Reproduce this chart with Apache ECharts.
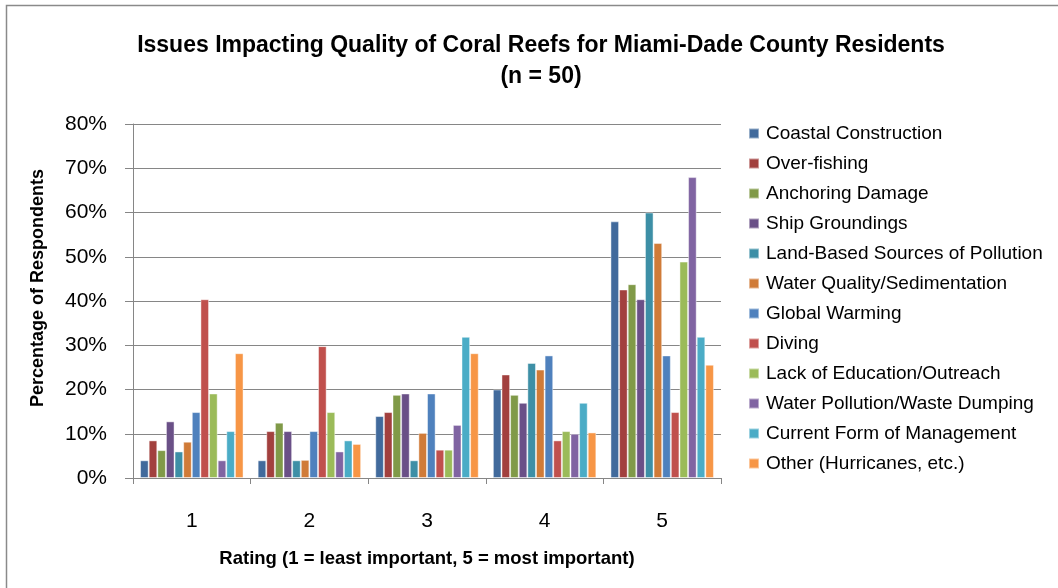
<!DOCTYPE html>
<html>
<head>
<meta charset="utf-8">
<script src="https://cdn.jsdelivr.net/npm/echarts@6/dist/echarts.min.js"></script>
<style>
  html, body { margin: 0; padding: 0; background: #fff; }
  #chart { width: 1058px; height: 588px; }
</style>
</head>
<body>
<div id="chart"></div>
<script>
// ratings on the x axis
var ratings = ["1", "2", "3", "4", "5"];

// percentage of respondents, one value per rating
var coastalConstruction = [4.0, 4.0, 14.0, 20.0, 58.0];
var overFishing = [8.5, 10.6, 14.9, 23.4, 42.6];
var anchoringDamage = [6.3, 12.5, 18.8, 18.8, 43.8];
var shipGroundings = [12.8, 10.6, 19.1, 17.0, 40.4];
var landBased = [6.0, 4.0, 4.0, 26.0, 60.0];
var waterQuality = [8.2, 4.1, 10.2, 24.5, 53.1];
var globalWarming = [14.9, 10.6, 19.1, 27.7, 27.7];
var diving = [40.4, 29.8, 6.4, 8.5, 14.9];
var lackEducation = [19.1, 14.9, 6.4, 10.6, 48.9];
var waterPollution = [4.0, 6.0, 12.0, 10.0, 68.0];
var currentManagement = [10.6, 8.5, 31.9, 17.0, 31.9];
var otherHurricanes = [28.2, 7.7, 28.2, 10.3, 25.6];

var yTicks = [0, 10, 20, 30, 40, 50, 60, 70, 80];

var seriesDefs = [
    { name: "Coastal Construction", data: coastalConstruction, color: "#416A9C" },
    { name: "Over-fishing", data: overFishing, color: "#A2403E" },
    { name: "Anchoring Damage", data: anchoringDamage, color: "#809A48" },
    { name: "Ship Groundings", data: shipGroundings, color: "#6A5087" },
    { name: "Land-Based Sources of Pollution", data: landBased, color: "#3D8FA6" },
    { name: "Water Quality/Sedimentation", data: waterQuality, color: "#D07B38" },
    { name: "Global Warming", data: globalWarming, color: "#4F81BD" },
    { name: "Diving", data: diving, color: "#C0504D" },
    { name: "Lack of Education/Outreach", data: lackEducation, color: "#9BBB59" },
    { name: "Water Pollution/Waste Dumping", data: waterPollution, color: "#8064A2" },
    { name: "Current Form of Management", data: currentManagement, color: "#4BACC6" },
    { name: "Other (Hurricanes, etc.)", data: otherHurricanes, color: "#F79646" }
];

var font = "'Liberation Sans', Arial, sans-serif";

var series = seriesDefs.map(function (s) {
    return {
        name: s.name,
        type: "bar",
        data: s.data,
        barGap: "0%",
        barCategoryGap: "12%",
        itemStyle: { color: s.color, borderColor: "rgba(255,255,255,0.45)", borderWidth: 1 },
        emphasis: { disabled: true }
    };
});

var myChart = echarts.init(document.getElementById("chart"), null, { renderer: "canvas" });

myChart.setOption({
    animation: false,
    textStyle: { fontFamily: font },
    title: {
        text: "Issues Impacting Quality of Coral Reefs for Miami-Dade County Residents\n(n = 50)",
        left: 536,
        textAlign: "center",
        top: 25,
        textStyle: { fontSize: 23, fontWeight: "bold", color: "#000", lineHeight: 31, fontFamily: font }
    },
    legend: {
        orient: "vertical",
        left: 743,
        top: 119,
        itemWidth: 10,
        itemHeight: 10,
        itemGap: 11,
        icon: "rect",
        data: seriesDefs.map(function (s) { return s.name; }),
        textStyle: { fontSize: 19, color: "#000", fontFamily: font, padding: [0, 0, 0, 2] }
    },
    grid: { left: 133, right: 337, top: 124, bottom: 110 },
    xAxis: {
        type: "category",
        data: ratings,
        name: "Rating (1 = least important, 5 = most important)",
        nameLocation: "middle",
        nameGap: 71,
        nameTextStyle: { fontSize: 18.5, fontWeight: "bold", color: "#000" },
        axisLine: { lineStyle: { color: "#868686", width: 1 } },
        axisTick: { show: true, length: 6, lineStyle: { color: "#868686" } },
        axisLabel: { fontSize: 21, color: "#000", margin: 33 }
    },
    yAxis: {
        type: "value",
        min: yTicks[0],
        max: yTicks[yTicks.length - 1],
        interval: 10,
        axisLine: { show: true, lineStyle: { color: "#868686", width: 1 } },
        axisTick: { show: true, length: 8, lineStyle: { color: "#868686" } },
        axisLabel: { fontSize: 21, color: "#000", margin: 26, formatter: "{value}%" },
        splitLine: { lineStyle: { color: "#868686", width: 1 } }
    },
    graphic: [
        {
            type: "rect",
            shape: { x: 6.5, y: 5.5, width: 1100, height: 700 },
            style: { fill: null, stroke: "#8a8a8a", lineWidth: 1.5 },
            silent: true
        },
        {
            type: "text",
            x: 38,
            y: 288,
            rotation: Math.PI / 2,
            style: {
                text: "Percentage of Respondents",
                font: "bold 18px " + font,
                fill: "#000",
                align: "center",
                verticalAlign: "middle"
            }
        }
    ],
    series: series
});
</script>
</body>
</html>
